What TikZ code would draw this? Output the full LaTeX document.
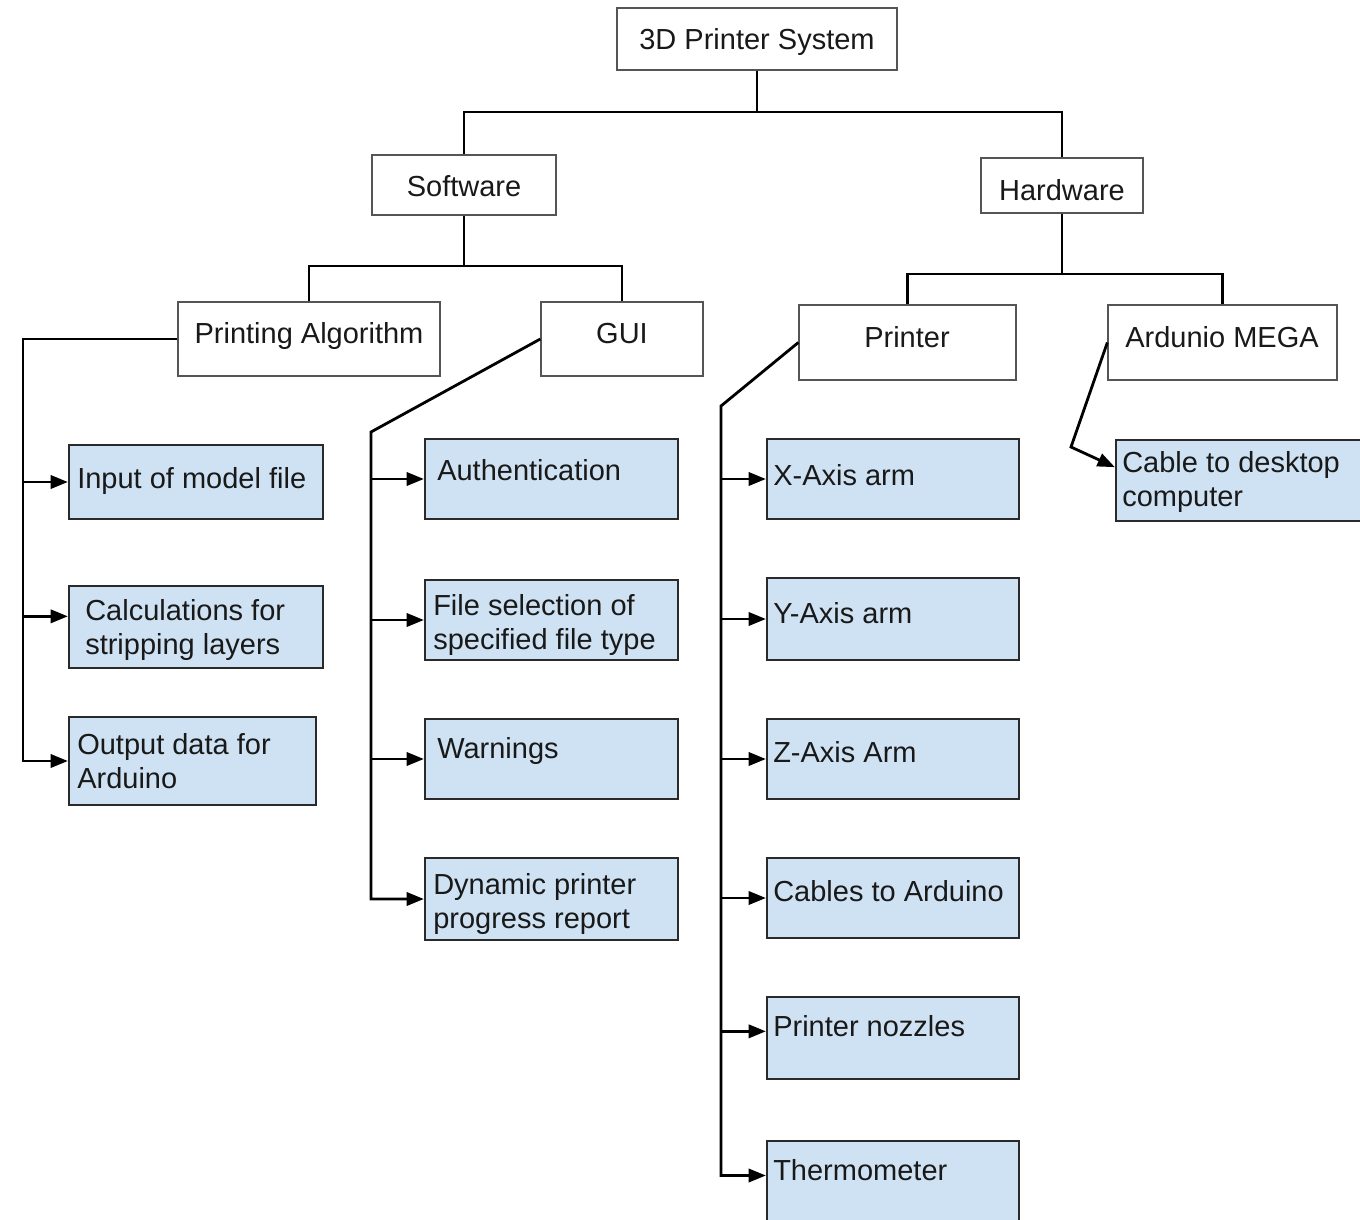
\documentclass[tikz,border=0pt]{standalone}
\usepackage{fontspec}
\setmainfont{Liberation Sans}
\usetikzlibrary{arrows.meta,fit}
\definecolor{leafblue}{HTML}{CFE2F3}
\definecolor{boxgray}{HTML}{555555}
\definecolor{leafedge}{HTML}{2A2A2A}
\begin{document}
\begin{tikzpicture}[x=0.75pt,y=-0.75pt,
 wbox/.style={draw=boxgray,line width=1pt,fill=white,inner sep=0pt},
 lbox/.style={draw=leafedge,line width=1.7pt,fill=leafblue,inner sep=0pt},
 lbl/.style={inner sep=0pt,font=\fontsize{21.75}{25.5}\selectfont,align=left,text=black!90},
 link/.style={line width=2.1pt,draw=black},
 arr/.style={link,-{Triangle[length=13pt,width=10pt]}}]
\useasboundingbox (0,0) rectangle (1360,1220);
\clip (0,0) rectangle (1360,1220);

% upper boxes
\node[wbox,fit={(617,8)(897,70)}] (root) {};
\node[wbox,fit={(372,155)(556,215)}] (sw) {};
\node[wbox,fit={(981,158)(1143,213)}] (hw) {};
\node[wbox,fit={(178,302)(440,376)}] (pa) {};
\node[wbox,fit={(541,302)(703,376)}] (gui) {};
\node[wbox,fit={(799,305)(1016,380)}] (pr) {};
\node[wbox,fit={(1108,305)(1337,380)}] (ard) {};

\node[lbl,anchor=base] (troot) at (757,50) {3D Printer System};
\node[lbl,anchor=base] (tsw) at (464,197) {Software};
\node[lbl,anchor=base] (thw) at (1062,200) {Hardware};
\node[lbl,anchor=base] (tpa) at (309,343) {Printing Algorithm};
\node[lbl,anchor=base] (tgui) at (622,343) {GUI};
\node[lbl,anchor=base] (tpr) at (907,347) {Printer};
\node[lbl,anchor=base] (tard) at (1222,347) {Ardunio MEGA};

% leaf boxes
\node[lbox,fit={(69,445)(323,519)}] (in1) {};
\node[lbox,fit={(69,586)(323,668)}] (in2) {};
\node[lbox,fit={(69,717)(316,805)}] (in3) {};
\node[lbox,fit={(425,439)(678,519)}] (au) {};
\node[lbox,fit={(425,580)(678,660)}] (fs) {};
\node[lbox,fit={(425,719)(678,799)}] (wa) {};
\node[lbox,fit={(425,858)(678,940)}] (dy) {};
\node[lbox,fit={(767,439)(1019,519)}] (xa) {};
\node[lbox,fit={(767,578)(1019,660)}] (ya) {};
\node[lbox,fit={(767,719)(1019,799)}] (za) {};
\node[lbox,fit={(767,858)(1019,938)}] (ca) {};
\node[lbox,fit={(767,997)(1019,1079)}] (nz) {};
\node[lbox,fit={(767,1141)(1019,1222)}] (th) {};
\node[lbox,fit={(1116,440)(1364,521)}] (ct) {};

\node[lbl,anchor=base west] (tin1) at (77,488) {Input of model file};
\node[lbl,anchor=north west] (tin2) at (85,599.5) {Calculations for\\stripping layers};
\node[lbl,anchor=north west] (tin3) at (77,733.5) {Output data for\\Arduino};
\node[lbl,anchor=base west] (tau) at (437,480) {Authentication};
\node[lbl,anchor=north west] (tfs) at (433,594.5) {File selection of\\specified file type};
\node[lbl,anchor=base west] (twa) at (437,758) {Warnings};
\node[lbl,anchor=north west] (tdy) at (433,873.5) {Dynamic printer\\progress report};
\node[lbl,anchor=base west] (txa) at (773,485) {X-Axis arm};
\node[lbl,anchor=base west] (tya) at (773,623) {Y-Axis arm};
\node[lbl,anchor=base west] (tza) at (773,762) {Z-Axis Arm};
\node[lbl,anchor=base west] (tca) at (773,901) {Cables to Arduino};
\node[lbl,anchor=base west] (tnz) at (773,1036) {Printer nozzles};
\node[lbl,anchor=base west] (tth) at (773,1180) {Thermometer};
\node[lbl,anchor=north west] (tct) at (1122,451.5) {Cable to desktop\\computer};

% tree connectors
\coordinate (j1) at (757,112);
\draw[link] (root.south) -- (j1);
\draw[link] (sw.north) |- (j1) -| (hw.north);
\coordinate (j2) at (464,266);
\draw[link] (sw.south) -- (j2);
\draw[link] (pa.north) |- (j2) -| (gui.north);
\coordinate (j3) at (1062,274);
\draw[link] (hw.south) -- (j3);
\draw[link] (pr.north) |- (j3) -| (ard.north);

% Printing Algorithm branch
\coordinate (t1) at (23,339);
\coordinate (in2p) at ([yshift=8pt]in2.west);
\draw[arr] (pa.west) -- (t1) |- (in3.west);
\draw[arr] (t1 |- in1.west) -- (in1.west);
\draw[arr] (t1 |- in2p) -- (in2p);

% GUI branch
\coordinate (t2) at (371,432);
\draw[arr] (gui.west) -- (t2) |- (dy.west);
\draw[arr] (t2 |- au.west) -- (au.west);
\draw[arr] (t2 |- fs.west) -- (fs.west);
\draw[arr] (t2 |- wa.west) -- (wa.west);

% Printer branch
\coordinate (t3) at (721,406);
\coordinate (thp) at ([yshift=4.5pt]th.west);
\coordinate (nzp) at ([yshift=5pt]nz.west);
\draw[arr] (pr.west) -- (t3) |- (thp);
\draw[arr] (t3 |- xa.west) -- (xa.west);
\draw[arr] (t3 |- ya.west) -- (ya.west);
\draw[arr] (t3 |- za.west) -- (za.west);
\draw[arr] (t3 |- ca.west) -- (ca.west);
\draw[arr] (t3 |- nzp) -- (nzp);

% Arduino branch
\coordinate (t4) at (1071,447);
\draw[arr] (ard.west) -- (t4) -- ([yshift=10pt]ct.west);
\end{tikzpicture}
\end{document}
